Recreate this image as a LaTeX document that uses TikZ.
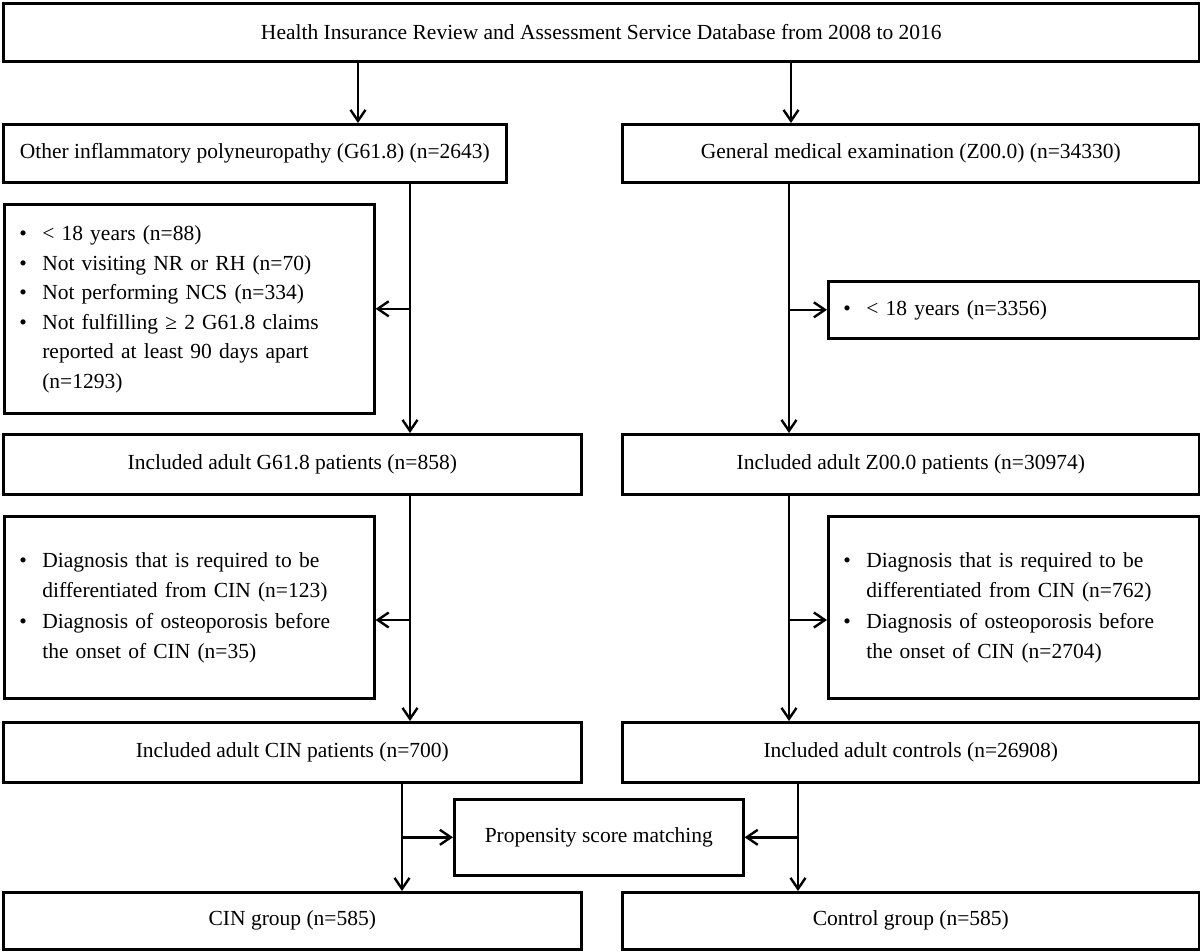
\documentclass[tikz,border=0pt]{standalone}
\usepackage{fontspec}
\setmainfont{Liberation Serif}
\usetikzlibrary{arrows.meta}
\tikzset{
  box/.style={draw, line width=2.6pt, anchor=north west, inner sep=0pt,
    font=\fontsize{21.5}{29.5}\selectfont},
  listbox/.style={box, align=left, inner xsep=15pt},
  arr/.style={line width=2.4pt, -{Straight Barb[length=11pt,width=15pt,line width=2.4pt]}},
}
\newcommand{\bl}{\textbullet}
\begin{document}
\begin{tikzpicture}[x=1pt,y=-1pt]
\useasboundingbox (0,0) rectangle (1200,951);
% rows
\node[box, minimum width=1196pt, minimum height=58pt] (top) at (2,2)
  {Health Insurance Review and Assessment Service Database from 2008 to 2016};
\node[box, minimum width=503pt, minimum height=58pt] (r2l) at (2,123)
  {Other inflammatory polyneuropathy (G61.8) (n=2643)};
\node[box, minimum width=577pt, minimum height=58pt] (r2r) at (621,123)
  {General medical examination (Z00.0) (n=34330)};
\node[listbox, minimum width=370pt, minimum height=209pt, text width=340pt] (ex1l) at (3,203)
  {\begin{tabular}{@{}p{23pt}@{}l@{}}
   \bl & < 18 years (n=88)\\
   \bl & Not visiting NR or RH (n=70)\\
   \bl & Not performing NCS (n=334)\\
   \bl & Not fulfilling ≥ 2 G61.8 claims\\
       & reported at least 90 days apart\\
       & (n=1293)
   \end{tabular}};
\node[listbox, minimum width=371pt, minimum height=57pt, text width=341pt] (ex1r) at (827,280)
  {\begin{tabular}{@{}p{23pt}@{}l@{}}
   \bl & < 18 years (n=3356)
   \end{tabular}};
\node[box, minimum width=578pt, minimum height=60pt] (r3l) at (2,433)
  {Included adult G61.8 patients (n=858)};
\node[box, minimum width=577pt, minimum height=60pt] (r3r) at (621,433)
  {Included adult Z00.0 patients (n=30974)};
\node[listbox, minimum width=370pt, minimum height=182pt, text width=340pt] (ex2l) at (3,515)
  {\begin{tabular}{@{}p{23pt}@{}l@{}}
   \bl & Diagnosis that is required to be\\
       & differentiated from CIN (n=123)\\[2pt]
   \bl & Diagnosis of osteoporosis before\\
       & the onset of CIN (n=35)
   \end{tabular}};
\node[listbox, minimum width=371pt, minimum height=182pt, text width=341pt] (ex2r) at (827,515)
  {\begin{tabular}{@{}p{23pt}@{}l@{}}
   \bl & Diagnosis that is required to be\\
       & differentiated from CIN (n=762)\\[2pt]
   \bl & Diagnosis of osteoporosis before\\
       & the onset of CIN (n=2704)
   \end{tabular}};
\node[box, minimum width=578pt, minimum height=60pt] (r5l) at (2,721)
  {Included adult CIN patients (n=700)};
\node[box, minimum width=577pt, minimum height=60pt] (r5r) at (621,721)
  {Included adult controls (n=26908)};
\node[box, minimum width=289pt, minimum height=76pt] (psm) at (453,798)
  {Propensity score matching};
\node[box, minimum width=578pt, minimum height=57pt] (bl) at (2,891)
  {CIN group (n=585)};
\node[box, minimum width=577pt, minimum height=57pt] (br) at (621,891)
  {Control group (n=585)};
% helper coordinates
\coordinate (cL1) at (358,0);
\coordinate (cR1) at (791,0);
\coordinate (cL2) at (410,0);
\coordinate (cR2) at (789,0);
\coordinate (cL3) at (402,0);
\coordinate (cR3) at (798,0);
\coordinate (yA) at (0,620);
% connectors
\draw[arr] (top.south -| cL1) -- (r2l.north -| cL1);
\draw[arr] (top.south -| cR1) -- (r2r.north -| cR1);
\draw[arr] (r2l.south -| cL2) -- (r3l.north -| cL2);
\draw[arr] (ex1l.east -| cL2) -- (ex1l.east);
\draw[arr] (r2r.south -| cR2) -- (r3r.north -| cR2);
\draw[arr] (ex1r.west -| cR2) -- (ex1r.west);
\draw[arr] (r3l.south -| cL2) -- (r5l.north -| cL2);
\draw[arr] (cL2 |- yA) -- (ex2l.east |- yA);
\draw[arr] (r3r.south -| cR2) -- (r5r.north -| cR2);
\draw[arr] (cR2 |- yA) -- (ex2r.west |- yA);
\draw[arr] (r5l.south -| cL3) -- (bl.north -| cL3);
\draw[arr] (psm.west -| cL3) -- (psm.west);
\draw[arr] (r5r.south -| cR3) -- (br.north -| cR3);
\draw[arr] (psm.east -| cR3) -- (psm.east);
\end{tikzpicture}
\end{document}
